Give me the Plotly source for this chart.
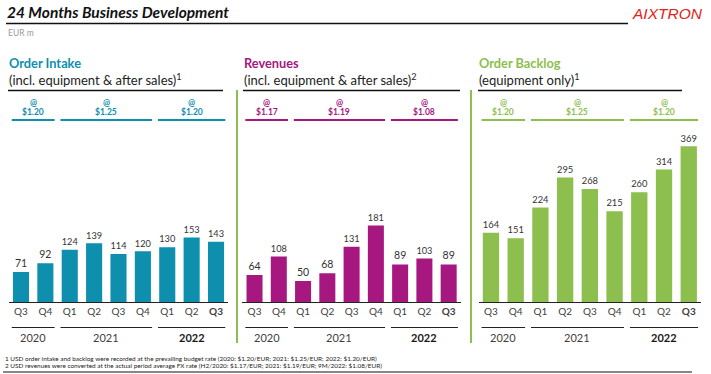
import plotly.graph_objects as go

W, H = 711, 374

quarters = ["Q3", "Q4", "Q1", "Q2", "Q3", "Q4", "Q1", "Q2", "Q3"]
order_intake = [71, 92, 124, 139, 114, 120, 130, 153, 143]
revenues = [64, 108, 50, 68, 131, 181, 89, 103, 89]
backlog = [164, 151, 224, 295, 268, 215, 260, 314, 369]

years = ["2020", "2021", "2022"]
year_spans = [(0, 1), (2, 5), (6, 8)]
oi_fx = ["$1.20", "$1.25", "$1.20"]
rev_fx = ["$1.17", "$1.19", "$1.08"]
bl_fx = ["$1.20", "$1.25", "$1.20"]

TEAL = "#0D8FAD"
MAGENTA = "#A6177F"
GREEN = "#8CBF4D"
FONT = "Lato"


def px(x):
    return x / W


def py(y):
    return 1 - y / H


panels = [
    dict(ax="x", name="Order Intake", sub="(incl. equipment & after sales)<sup>1</sup>", vals=order_intake,
         fx=oi_fx, color=TEAL, dom=(8.8, 228.2), tx=7, line=(8, 223)),
    dict(ax="x2", name="Revenues", sub="(incl. equipment & after sales)<sup>2</sup>", vals=revenues,
         fx=rev_fx, color=MAGENTA, dom=(242.4, 460.8), tx=242, line=(243, 460)),
    dict(ax="x3", name="Order Backlog", sub="(equipment only)<sup>1</sup>", vals=backlog,
         fx=bl_fx, color=GREEN, dom=(478.6, 701.1), tx=477, line=(478, 682)),
]

fig = go.Figure()
shapes = []
annotations = []

ticktext = quarters[:-1] + ["<b>" + quarters[-1] + "</b>"]
xs = list(range(len(quarters)))

for i, p in enumerate(panels):
    fig.add_trace(go.Bar(
        x=xs, y=p["vals"], xaxis=p["ax"], yaxis="y",
        marker=dict(color=p["color"], line=dict(width=0)),
        width=0.66, text=[str(v) for v in p["vals"]], textposition="outside",
        textfont=dict(family=FONT, size=10.5, color="#333333"),
        cliponaxis=False, hoverinfo="skip", showlegend=False,
    ))
    axkey = "xaxis" if i == 0 else "xaxis%d" % (i + 1)
    fig.update_layout(**{axkey: dict(
        domain=[px(p["dom"][0]), px(p["dom"][1])], anchor="y",
        range=[-0.5, 8.5], tickvals=xs, ticktext=ticktext,
        tickfont=dict(family=FONT, size=10, color="#404040"),
        showline=True, linecolor="#222222", linewidth=1,
        showgrid=False, zeroline=False, ticks="", fixedrange=True,
    )})
    xref = p["ax"]
    # panel title
    annotations.append(dict(text="<b>" + p["name"] + "</b>", xref="paper", yref="paper",
                            x=px(p["tx"]), y=py(63), xanchor="left", yanchor="middle",
                            showarrow=False, font=dict(family=FONT, size=12.8, color=p["color"])))
    annotations.append(dict(text=p["sub"], xref="paper", yref="paper",
                            x=px(p["tx"]), y=py(80), xanchor="left", yanchor="middle",
                            showarrow=False, font=dict(family=FONT, size=13, color="#222222")))
    shapes.append(dict(type="line", xref="paper", yref="paper",
                       x0=px(p["line"][0]), x1=px(p["line"][1]), y0=py(90.5), y1=py(90.5),
                       line=dict(color="#111111", width=1.3)))
    for (a, b), yr, fx in zip(year_spans, years, p["fx"]):
        x0 = a - 0.5 + 0.12
        x1 = b + 0.5 - 0.12
        xc = (a + b) / 2
        # fx group
        shapes.append(dict(type="line", xref=xref, yref="paper", x0=x0, x1=x1,
                           y0=py(120), y1=py(120), line=dict(color=p["color"], width=2)))
        annotations.append(dict(text="<b>@</b>", xref=xref, yref="paper", x=xc, y=py(103),
                                showarrow=False, yanchor="middle",
                                font=dict(family=FONT, size=8.5, color=p["color"])))
        annotations.append(dict(text="<b>" + fx + "</b>", xref=xref, yref="paper", x=xc, y=py(112),
                                showarrow=False, yanchor="middle",
                                font=dict(family=FONT, size=8.5, color=p["color"])))
        # year group
        shapes.append(dict(type="line", xref=xref, yref="paper", x0=x0, x1=x1,
                           y0=py(327.5), y1=py(327.5), line=dict(color="#222222", width=1)))
        ytxt = "<b>" + yr + "</b>" if yr == years[-1] else yr
        annotations.append(dict(text=ytxt, xref=xref, yref="paper", x=xc, y=py(337),
                                showarrow=False, yanchor="middle",
                                font=dict(family=FONT, size=11, color="#1a1a1a" if yr == years[-1] else "#404040")))

# separators
for sx in (237, 471):
    shapes.append(dict(type="line", xref="paper", yref="paper", x0=px(sx), x1=px(sx),
                       y0=py(90), y1=py(343), line=dict(color=GREEN, width=2)))

# header
annotations.append(dict(text="<b><i>24 Months Business Development</i></b>", xref="paper", yref="paper",
                        x=px(5), y=py(12), xanchor="left", yanchor="middle", showarrow=False,
                        font=dict(family=FONT, size=15.5, color="#111111")))
shapes.append(dict(type="line", xref="paper", yref="paper", x0=px(6), x1=px(628),
                   y0=py(23.5), y1=py(23.5), line=dict(color="#111111", width=1.5)))
annotations.append(dict(text="<i>AIXTRON</i>", xref="paper", yref="paper",
                        x=px(705), y=py(13), xanchor="right", yanchor="middle", showarrow=False,
                        font=dict(family="Liberation Sans Narrow, Liberation Sans", size=15.5, color="#E2231A")))
annotations.append(dict(text="EUR m", xref="paper", yref="paper",
                        x=px(6), y=py(33), xanchor="left", yanchor="middle", showarrow=False,
                        font=dict(family=FONT, size=8.5, color="#9a9a9a")))

# footnotes
foot1 = "1 USD order intake and backlog were recorded at the prevailing budget rate (2020: $1.20/EUR; 2021: $1.25/EUR; 2022: $1.20/EUR)"
foot2 = "2 USD revenues were converted at the actual period average FX rate (H2/2020: $1.17/EUR; 2021: $1.19/EUR; 9M/2022: $1.08/EUR)"
annotations.append(dict(text=foot1, xref="paper", yref="paper", x=px(3), y=py(358),
                        xanchor="left", yanchor="middle", showarrow=False,
                        font=dict(family=FONT, size=6.4, color="#222222")))
annotations.append(dict(text=foot2, xref="paper", yref="paper", x=px(3), y=py(365.5),
                        xanchor="left", yanchor="middle", showarrow=False,
                        font=dict(family=FONT, size=6.4, color="#222222")))
shapes.append(dict(type="line", xref="paper", yref="paper", x0=px(3), x1=px(692),
                   y0=py(372), y1=py(372), line=dict(color="#111111", width=1)))

fig.update_layout(
    width=W, height=H, autosize=False,
    margin=dict(l=0, r=0, t=0, b=0),
    paper_bgcolor="white", plot_bgcolor="white",
    yaxis=dict(domain=[py(302), py(130)], range=[0, 407.6], visible=False, fixedrange=True),
    shapes=shapes, annotations=annotations,
    bargap=0.3, font=dict(family=FONT),
)

fig.write_html("out.html", config={"displayModeBar": False},
               post_script="document.body.style.margin='0';document.body.style.padding='0';document.body.style.overflow='hidden';")
